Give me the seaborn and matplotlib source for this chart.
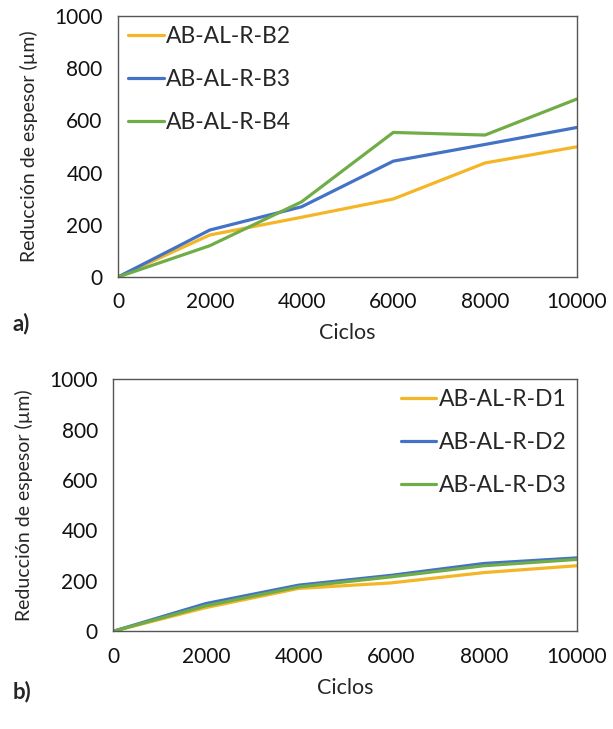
import matplotlib.pyplot as plt
import numpy as np
import pandas as pd
import seaborn as sns

# datos
ciclos = [0, 2000, 4000, 6000, 8000, 10000]
b2 = [0, 161, 229, 299, 437, 499]
b3 = [0, 180, 269, 444, 508, 573]
b4 = [0, 120, 288, 554, 544, 682]
d1 = [0, 94, 170, 192, 233, 260]
d2 = [0, 110, 183, 222, 269, 291]
d3 = [0, 101, 176, 216, 260, 285]

series_a = {'AB-AL-R-B2': b2, 'AB-AL-R-B3': b3, 'AB-AL-R-B4': b4}
series_b = {'AB-AL-R-D1': d1, 'AB-AL-R-D2': d2, 'AB-AL-R-D3': d3}
colores = ['#F4B626', '#4472C4', '#70AD47']

sns.set_style('white')
plt.rcParams['font.family'] = ['Lato', 'DejaVu Sans']


def to_long(series):
    rows = []
    for name, vals in series.items():
        for c, v in zip(ciclos, vals):
            rows.append({'Ciclos': c, 'valor': v, 'serie': name})
    return pd.DataFrame(rows)


fig = plt.figure(figsize=(6.13, 7.29), dpi=100)
ax_a = fig.add_axes([0.1925, 0.620, 0.7485, 0.358])
ax_b = fig.add_axes([0.1845, 0.134, 0.7565, 0.346])

for ax, series, loc in [(ax_a, series_a, 'upper left'), (ax_b, series_b, 'upper right')]:
    df = to_long(series)
    sns.lineplot(data=df, x='Ciclos', y='valor', hue='serie', palette=colores,
                 linewidth=2.3, ax=ax)
    ax.set_xlim(0, 10000)
    ax.set_ylim(0, 1000)
    ax.set_xticks(ciclos)
    ax.set_yticks(np.arange(0, 1001, 200))
    ax.tick_params(labelsize=15, length=0, pad=11, colors='#111111')
    ax.set_xlabel('Ciclos', fontsize=15.5, labelpad=8)
    ax.set_ylabel('Reducción de espesor (µm)', fontsize=14, labelpad=12)
    for s in ax.spines.values():
        s.set_color('#555555')
        s.set_linewidth(1.0)
    leg = ax.legend(loc=loc, frameon=False, fontsize=16.5, handlelength=1.55,
                    handletextpad=0.1, labelspacing=0.95, borderaxespad=0.1,
                    borderpad=0.35)
    for line in leg.get_lines():
        line.set_linewidth(2.3)

fig.text(0.02, 0.547, 'a)', fontsize=16, fontweight='bold')
fig.text(0.02, 0.042, 'b)', fontsize=16, fontweight='bold')

plt.savefig('out.png', dpi=100)
